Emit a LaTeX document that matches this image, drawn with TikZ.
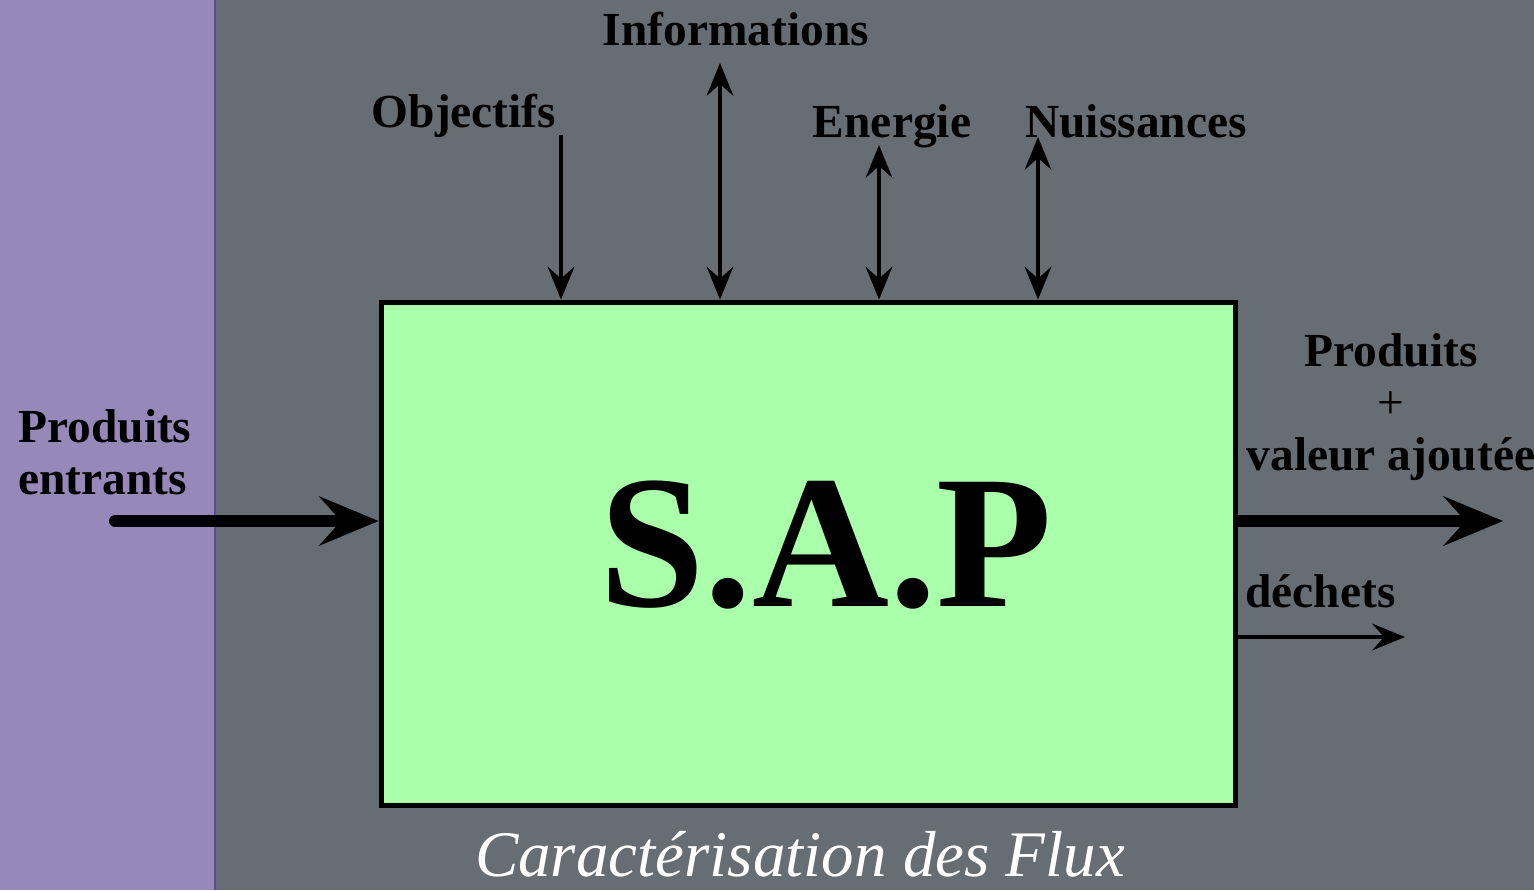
\documentclass[tikz,border=0pt]{standalone}
\usepackage{fontspec}
\setmainfont{Liberation Serif}
\usepackage{xcolor}
\usetikzlibrary{positioning}
\usetikzlibrary{arrows.meta}

\definecolor{fondgris}{HTML}{666D73}
\definecolor{bandeviolet}{HTML}{9788BA}
\definecolor{bordviolet}{HTML}{5C4B9C}
\definecolor{vertsap}{HTML}{AAFFAA}

\tikzset{
    lbl/.style={font=\fontsize{27}{29.5}\selectfont\bfseries, inner sep=0pt},
    pointe/.tip={Stealth[length=0.66cm, width=0.54cm, inset=0.24cm, line width=0pt]},
    grossepointe/.tip={Stealth[length=1.2cm, width=1.0cm, inset=0.45cm, line width=0pt]},
    flux/.style={line width=0.08cm, -pointe},
    fluxdouble/.style={line width=0.08cm, pointe-pointe},
    fluxgros/.style={line width=0.24cm, line cap=round, -grossepointe}
}

\begin{document}
\begin{tikzpicture}[x=0.02cm, y=-0.02cm]
    \useasboundingbox (0,0) rectangle (1534,890);
    \fill[fondgris] (0,0) rectangle (1534,890);
    \fill[bandeviolet] (0,0) rectangle (215,890);
    \draw[bordviolet, line width=0.04cm] (215,0) -- (215,890);

    \node[draw=black, fill=vertsap, line width=0.1cm,
        minimum width=17.1cm, minimum height=10.08cm] (sap) at (808.5,554) {};
    \node[font=\fontsize{108}{110}\selectfont\bfseries] (saptxt) at (826,545) {S.A.P};

    % flux du haut
    \node[lbl, anchor=base] (objectifs) at (464,127) {Objectifs};
    \node[lbl, anchor=base] (informations) at (736,45) {Informations};
    \node[lbl, anchor=base] (energie) at (892,137) {Energie};
    \node[lbl, anchor=base] (nuisances) at (1136,137) {Nuissances};
    \coordinate (obj) at (561,135);
    \coordinate (info) at (720,63);
    \coordinate (ener) at (879,145);
    \coordinate (nuis) at (1038,137);
    \draw[flux] (obj) -- (sap.north -| obj);
    \draw[fluxdouble] (info) -- (sap.north -| info);
    \draw[fluxdouble] (ener) -- (sap.north -| ener);
    \draw[fluxdouble] (nuis) -- (sap.north -| nuis);

    % entree / sorties
    \node[lbl, anchor=base west, align=left] (entrants) at (18,494) {Produits\\entrants};
    \coordinate (entree) at (115,521);
    \draw[fluxgros] (entree) -- (sap.west |- entree);

    \node[lbl, anchor=base, align=center] (produits) at (1391,470)
        {Produits\\{\mdseries +}\\valeur ajoutée};
    \coordinate (sortie) at (1503,521);
    \draw[fluxgros, line cap=butt] (sap.east |- sortie) -- (sortie);

    \node[lbl, anchor=base west] (dechets) at (1245,607) {déchets};
    \coordinate (dech) at (1405,637);
    \draw[flux] (sap.east |- dech) -- (dech);

    \node[font=\fontsize{37}{40}\selectfont\itshape, text=white, inner sep=0pt,
        text depth=0pt, anchor=base] (titre) at (800,876) {Caractérisation des Flux};
\end{tikzpicture}
\end{document}
